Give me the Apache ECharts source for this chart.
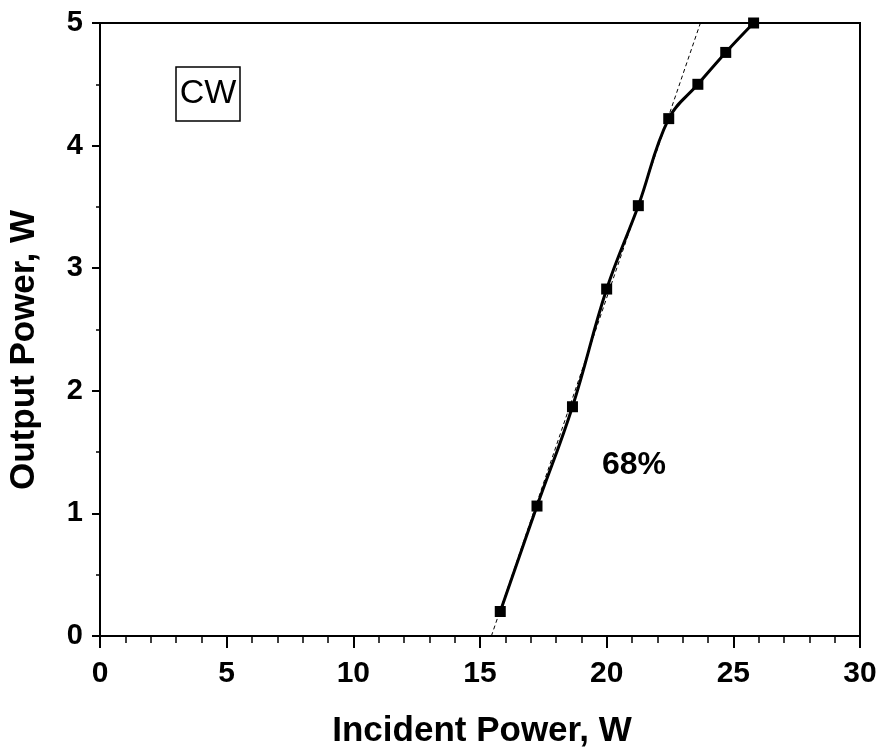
<!DOCTYPE html>
<html>
<head>
<meta charset="utf-8">
<script src="https://cdn.jsdelivr.net/npm/echarts@6/dist/echarts.min.js"></script>
<style>
  html, body { margin: 0; padding: 0; background: #fff; }
  #chart { width: 884px; height: 751px; }
</style>
</head>
<body>
<div id="chart"></div>
<script>
// Measured CW output power against incident pump power
const incidentPower = [15.8, 17.25, 18.65, 20.0, 21.25, 22.45, 23.6, 24.7, 25.8];
const outputPower   = [0.20, 1.06, 1.87, 2.83, 3.51, 4.22, 4.50, 4.76, 5.00];

// Linear fit of the low-power part (slope efficiency)
const fitX = [15.45, 23.7];
const fitY = [0, 5];

const xTicks = { min: 0, max: 30, step: 5 };
const yTicks = { min: 0, max: 5, step: 1 };

const FONT = '"Liberation Sans", Arial, sans-serif';

const chart = echarts.init(document.getElementById('chart'));

chart.setOption({
  backgroundColor: '#fff',
  animation: false,
  grid: {
    left: 100, right: 24, top: 23, bottom: 115,
    show: true, borderColor: '#000', borderWidth: 2, backgroundColor: 'transparent'
  },
  xAxis: {
    type: 'value',
    min: xTicks.min, max: xTicks.max, interval: xTicks.step,
    axisLine: { lineStyle: { color: '#000', width: 2 } },
    axisTick: { inside: false, length: 12, lineStyle: { color: '#000', width: 2 } },
    minorTick: { show: true, splitNumber: 5, length: 7, lineStyle: { color: '#000', width: 1.5 } },
    splitLine: { show: false },
    axisLabel: { color: '#000', fontFamily: FONT, fontWeight: 'bold', fontSize: 30, margin: 23 }
  },
  yAxis: {
    type: 'value',
    min: yTicks.min, max: yTicks.max, interval: yTicks.step,
    axisLine: { lineStyle: { color: '#000', width: 2 } },
    axisTick: { inside: false, length: 8, lineStyle: { color: '#000', width: 2 } },
    minorTick: { show: true, splitNumber: 2, length: 4, lineStyle: { color: '#000', width: 1.5 } },
    splitLine: { show: false },
    axisLabel: { color: '#000', fontFamily: FONT, fontWeight: 'bold', fontSize: 29, margin: 17 }
  },
  series: [
    {
      type: 'line',
      data: fitX.map((x, i) => [x, fitY[i]]),
      symbol: 'none',
      lineStyle: { color: '#000', width: 1, type: [4, 3] },
      z: 2
    },
    {
      type: 'line',
      data: incidentPower.map((x, i) => [x, outputPower[i]]),
      smooth: 0.4,
      symbol: 'rect',
      symbolSize: 11,
      itemStyle: { color: '#000' },
      lineStyle: { color: '#000', width: 3 },
      z: 3
    }
  ],
  graphic: [
    {
      type: 'text',
      x: 482, y: 731,
      style: {
        text: 'Incident Power, W', fill: '#000', font: 'bold 35px ' + FONT,
        align: 'center', verticalAlign: 'middle'
      }
    },
    {
      type: 'text',
      x: 24, y: 350,
      rotation: Math.PI / 2,
      style: {
        text: 'Output Power, W', fill: '#000', font: 'bold 35px ' + FONT,
        align: 'center', verticalAlign: 'middle'
      }
    },
    {
      type: 'rect',
      shape: { x: 176, y: 67, width: 64, height: 54 },
      style: { fill: '#fff', stroke: '#000', lineWidth: 1.5 }
    },
    {
      type: 'text',
      x: 208, y: 94,
      style: {
        text: 'CW', fill: '#000', font: '34px ' + FONT,
        align: 'center', verticalAlign: 'middle'
      }
    },
    {
      type: 'text',
      x: 634, y: 465,
      style: {
        text: '68%', fill: '#000', font: 'bold 32px ' + FONT,
        align: 'center', verticalAlign: 'middle'
      }
    }
  ]
});
</script>
</body>
</html>
